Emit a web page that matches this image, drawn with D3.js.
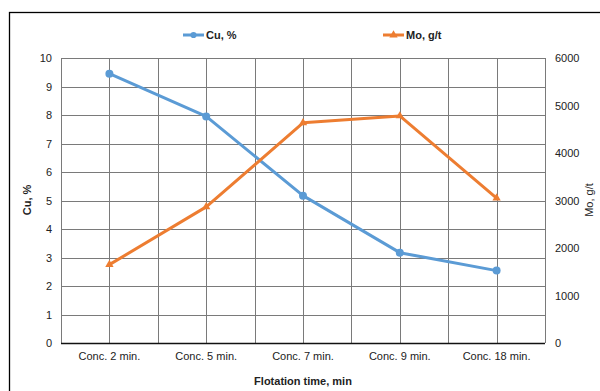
<!DOCTYPE html>
<html>
<head>
<meta charset="utf-8">
<script src="https://cdn.jsdelivr.net/npm/d3@7"></script>
<style>
  body { margin: 0; background: #fff; }
  text { font-family: "Liberation Sans", Arial, sans-serif; fill: #222; }
</style>
</head>
<body>
<svg id="chart" width="600" height="391"></svg>
<script>
// Flotation kinetics: Cu grade (left axis) and Mo grade (right axis)
const categories = ["Conc. 2 min.", "Conc. 5 min.", "Conc. 7 min.", "Conc. 9 min.", "Conc. 18 min."];
const cuValues = [9.45, 7.95, 5.17, 3.17, 2.54];
const moValues = [1650, 2865, 4635, 4780, 3050];
const cuTicks = [0, 1, 2, 3, 4, 5, 6, 7, 8, 9, 10];
const moTicks = [0, 1000, 2000, 3000, 4000, 5000, 6000];

const svg = d3.select("#chart");
const margin = {left: 61, right: 545, top: 58, bottom: 343};

// outer frame (runs off the picture to the right and bottom)
svg.append("rect")
    .attr("x", 9.5).attr("y", 12.5)
    .attr("width", 700).attr("height", 500)
    .attr("fill", "none").attr("stroke", "#000").attr("stroke-width", 1.3);

let x = d3.scaleBand().domain(categories).range([margin.left, margin.right]);
let yCu = d3.scaleLinear().domain([0, 10]).range([margin.bottom, margin.top]);
let yMo = d3.scaleLinear().domain([0, 6000]).range([margin.bottom, margin.top]);

// grid lines
let grid = svg.append("g").attr("stroke", "#7a7a7a").attr("stroke-width", 1);
grid.selectAll("line.h").data(cuTicks.slice(1)).enter().append("line")
    .attr("x1", margin.left).attr("x2", margin.right)
    .attr("y1", d => Math.round(yCu(d)) + 0.5).attr("y2", d => Math.round(yCu(d)) + 0.5);
let vlines = [];
categories.forEach((c, i) => {
    vlines.push(x(c) + x.bandwidth() / 2);
    vlines.push(x(c) + x.bandwidth());
});
vlines.unshift(margin.left);
grid.selectAll("line.v").data(vlines).enter().append("line")
    .attr("y1", margin.top).attr("y2", margin.bottom)
    .attr("x1", d => Math.round(d) + 0.5).attr("x2", d => Math.round(d) + 0.5);

// bottom axis line
svg.append("line")
    .attr("x1", margin.left).attr("x2", margin.right)
    .attr("y1", margin.bottom + 0.5).attr("y2", margin.bottom + 0.5)
    .attr("stroke", "#111").attr("stroke-width", 1.3);

// left tick labels
svg.append("g").selectAll("text").data(cuTicks).enter().append("text")
    .attr("x", 52).attr("y", d => yCu(d) + 4)
    .attr("text-anchor", "end").attr("font-size", 11)
    .text(d => d);

// right tick labels
svg.append("g").selectAll("text").data(moTicks).enter().append("text")
    .attr("x", 555).attr("y", d => yMo(d) + 4)
    .attr("font-size", 11)
    .text(d => d);

// category labels
svg.append("g").selectAll("text").data(categories).enter().append("text")
    .attr("x", d => x(d) + x.bandwidth() / 2).attr("y", 360)
    .attr("text-anchor", "middle").attr("font-size", 11)
    .text(d => d);

// axis titles
svg.append("text")
    .attr("x", 303).attr("y", 385)
    .attr("text-anchor", "middle").attr("font-size", 11).attr("font-weight", "bold")
    .text("Flotation time, min");
svg.append("text")
    .attr("transform", "translate(31,200) rotate(-90)")
    .attr("text-anchor", "middle").attr("font-size", 11).attr("font-weight", "bold")
    .text("Cu, %");
svg.append("text")
    .attr("transform", "translate(593,200) rotate(-90)")
    .attr("text-anchor", "middle").attr("font-size", 11)
    .text("Mo, g/t");

const blue = "#5b9bd5", orange = "#ed7d31";
let cx = d => x(d) + x.bandwidth() / 2;

// Cu series
let cuData = categories.map((c, i) => ({c: c, v: cuValues[i]}));
svg.append("path").datum(cuData)
    .attr("fill", "none").attr("stroke", blue).attr("stroke-width", 3)
    .attr("stroke-linejoin", "round")
    .attr("d", d3.line().x(d => cx(d.c)).y(d => yCu(d.v)));
svg.append("g").selectAll("circle").data(cuData).enter().append("circle")
    .attr("cx", d => cx(d.c)).attr("cy", d => yCu(d.v)).attr("r", 4)
    .attr("fill", blue);

// Mo series
let moData = categories.map((c, i) => ({c: c, v: moValues[i]}));
svg.append("path").datum(moData)
    .attr("fill", "none").attr("stroke", orange).attr("stroke-width", 3)
    .attr("stroke-linejoin", "round")
    .attr("d", d3.line().x(d => cx(d.c)).y(d => yMo(d.v)));
let tri = d3.symbol().type(d3.symbolTriangle).size(30);
svg.append("g").selectAll("path").data(moData).enter().append("path")
    .attr("transform", d => `translate(${cx(d.c)},${yMo(d.v)})`)
    .attr("d", tri).attr("fill", orange);

// legend
let legend = [
    {name: "Cu, %", color: blue, x: 183, sym: d3.symbolCircle},
    {name: "Mo, g/t", color: orange, x: 383, sym: d3.symbolTriangle}
];
let lg = svg.append("g").selectAll("g").data(legend).enter().append("g")
    .attr("transform", d => `translate(${d.x},35)`);
lg.append("line").attr("x1", 0).attr("x2", 21)
    .attr("stroke", d => d.color).attr("stroke-width", 3);
lg.append("path").attr("transform", "translate(10.5,0)")
    .attr("d", d => d3.symbol().type(d.sym).size(30)()).attr("fill", d => d.color);
lg.append("text").attr("x", 23).attr("y", 4)
    .attr("font-size", 11).attr("font-weight", "bold")
    .text(d => d.name);
</script>
</body>
</html>
